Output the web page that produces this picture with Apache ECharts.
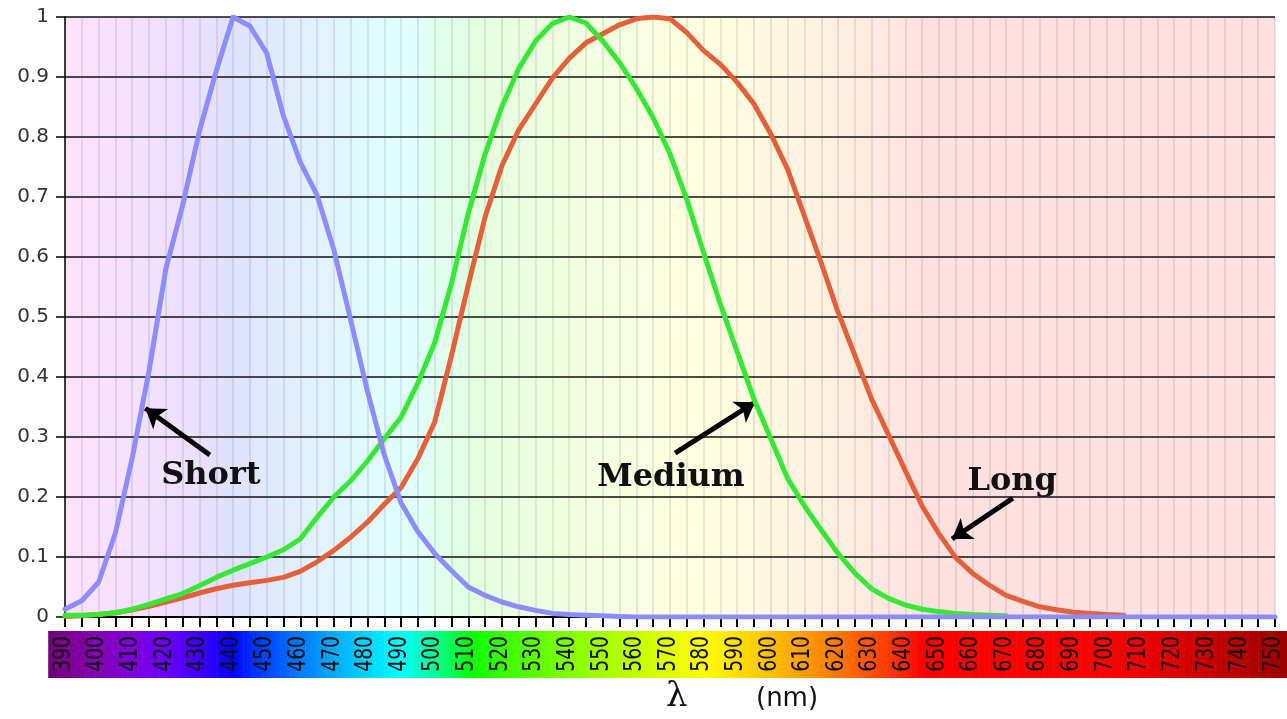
<!DOCTYPE html>
<html>
<head>
<meta charset="utf-8">
<title>Cone sensitivities</title>
<script src="https://cdn.jsdelivr.net/npm/echarts@6/dist/echarts.min.js"></script>
<style>
  html, body { margin: 0; padding: 0; background: #ffffff; }
  #chart { width: 1287px; height: 719px; }
</style>
</head>
<body>
<div id="chart"></div>
<script>
// Wavelength samples (nm) shared by the three cone curves
const WAVELENGTHS = [390,395,400,405,410,415,420,425,430,435,440,445,450,455,460,465,470,475,480,485,
  490,495,500,505,510,515,520,525,530,535,540,545,550,555,560,565,570,575,580,585,
  590,595,600,605,610,615,620,625,630,635,640,645,650,655,660,665,670,675,680,685,
  690,695,700,705,710,715,720,725,730,735,740,745,750];

// Normalised cone responses (null = no sample)
const SHORT = [0.013,0.027,0.058,0.14,0.265,0.41,0.58,0.686,0.81,0.91,1.0,0.985,0.94,0.835,0.758,0.703,0.612,0.495,0.376,0.27,
  0.19,0.142,0.106,0.077,0.05,0.036,0.025,0.017,0.011,0.006,0.004,0.003,0.002,0.001,0,0,0,0,0,0,
  0,0,0,0,0,0,0,0,0,0,0,0,0,0,0,0,0,0,0,0,
  0,0,0,0,0,0,0,0,0,0,0,0,0];

const MEDIUM = [0.003,0.003,0.004,0.007,0.013,0.021,0.03,0.039,0.052,0.066,0.078,0.089,0.1,0.112,0.13,0.166,0.2,0.227,0.26,0.297,
  0.333,0.39,0.457,0.556,0.673,0.772,0.851,0.914,0.96,0.989,1.0,0.99,0.96,0.924,0.881,0.832,0.772,0.696,0.607,0.521,
  0.442,0.363,0.297,0.231,0.185,0.145,0.106,0.073,0.047,0.031,0.02,0.013,0.009,0.006,0.004,0.003,0.002,null,null,null,
  null,null,null,null,null,null,null,null,null,null,null,null,null];

const LONG = [0.001,0.002,0.004,0.007,0.012,0.018,0.025,0.032,0.04,0.047,0.053,0.057,0.061,0.066,0.076,0.092,0.111,0.133,0.158,0.188,
  0.216,0.264,0.325,0.436,0.554,0.667,0.752,0.812,0.855,0.898,0.931,0.957,0.972,0.987,0.997,1.0,0.997,0.974,0.944,0.921,
  0.891,0.855,0.805,0.746,0.668,0.59,0.508,0.436,0.363,0.304,0.244,0.185,0.139,0.099,0.073,0.053,0.036,0.026,0.017,0.012,
  0.008,0.006,0.004,0.003,null,null,null,null,null,null,null,null,null];

// Wavelength tick labels printed inside the spectrum strip
const TICK_LABELS = [390,400,410,420,430,440,450,460,470,480,490,500,510,520,530,540,550,560,570,
  580,590,600,610,620,630,640,650,660,670,680,690,700,710,720,730,740,750];

// Curve names, label anchors and arrow ends (in nm / response units)
const CONE_NAMES = ['Long', 'Medium', 'Short'];
const LABEL_AT = { Short: [433.4, 0.235], Medium: [570.3, 0.233], Long: [671.8, 0.226] };
const ARROWS = {
  Short:  [[433.1, 0.27],  [413.9, 0.348]],
  Medium: [[571.5, 0.273], [595.3, 0.358]],
  Long:   [[672.0, 0.198], [653.9, 0.13]]
};

const X_MIN = 390, X_MAX = 750;

// Approximate visible-spectrum colour for a wavelength
function spectrum(w, fade) {
  let r = 0, g = 0, b = 0;
  if (w < 440) { r = fade ? -(w - 440) / 60 : Math.min(1, -(w - 440) / 50); b = 1; }
  else if (w < 490) { g = (w - 440) / 50; b = 1; }
  else if (w < 510) { g = 1; b = -(w - 510) / 20; }
  else if (w < 580) { r = (w - 510) / 70; g = 1; }
  else if (w < 645) { r = 1; g = -(w - 645) / 65; }
  else { r = 1; }
  let f = 1;
  if (fade) {
    if (w < 420) f = 0.3 + 0.7 * (w - 380) / 40;
    else if (w > 700) f = 0.3 + 0.7 * (780 - w) / 80;
  }
  const c = v => Math.round(255 * Math.pow(Math.max(0, Math.min(1, v * f)), 0.8));
  return [c(r), c(g), c(b)];
}
function toCss(rgb) { return 'rgb(' + rgb.join(',') + ')'; }
function tint(rgb, a) {
  return toCss(rgb.map(v => Math.round(255 * (1 - a) + v * a)));
}

// 1 nm bands for the tinted plot background and the spectrum strip
const bgBands = [];
for (let w = X_MIN; w < X_MAX; w += 1) bgBands.push([w]);
const stripBands = [];
for (let w = 385; w < 754; w += 1) stripBands.push([w]);

const CURVE_COLORS = { Short: '#8c8cff', Medium: '#34e834', Long: '#e4603a' };
const SERIES_VALUES = { Short: SHORT, Medium: MEDIUM, Long: LONG };

function coneSeries(name, z) {
  const vals = SERIES_VALUES[name];
  const a = ARROWS[name];
  return {
    name: name,
    type: 'line',
    z: z,
    data: WAVELENGTHS.map((w, i) => [w, vals[i]]),
    showSymbol: false,
    symbol: 'none',
    connectNulls: false,
    lineStyle: { color: CURVE_COLORS[name], width: 5, join: 'round', cap: 'round' },
    itemStyle: { color: CURVE_COLORS[name] },
    silent: true,
    markLine: {
      silent: true,
      symbol: ['none', 'arrow'],
      symbolSize: 19,
      label: { show: false },
      lineStyle: { color: '#000', width: 5, type: 'solid' },
      emphasis: { disabled: true },
      data: [[{ coord: a[0] }, { coord: a[1] }]]
    },
    markPoint: {
      silent: true,
      symbol: 'rect',
      symbolSize: 1,
      itemStyle: { color: 'rgba(0,0,0,0)' },
      label: {
        show: true,
        position: 'inside',
        formatter: name,
        color: '#111',
        fontFamily: 'DejaVu Serif',
        fontWeight: 'bold',
        fontSize: 32
      },
      data: [{ coord: LABEL_AT[name] }]
    }
  };
}

const chart = echarts.init(document.getElementById('chart'), null, { renderer: 'canvas' });

const option = {
  animation: false,
  backgroundColor: '#ffffff',
  grid: { left: 65, right: 12, top: 17, bottom: 102, containLabel: false },
  xAxis: {
    // axis line, 5 nm ticks and faint vertical grid behind the curves
    type: 'value', min: X_MIN, max: X_MAX, interval: 5, position: 'bottom',
    axisLine: { show: true, onZero: false, lineStyle: { color: '#000', width: 2 } },
    axisTick: { show: true, length: 10, lineStyle: { color: '#000', width: 2 } },
    axisLabel: { show: false },
    splitLine: { show: true, lineStyle: { color: 'rgba(60,60,60,0.15)', width: 1.5 } }
  },
  yAxis: {
    type: 'value', min: 0, max: 1, interval: 0.1,
    axisLine: { show: true, lineStyle: { color: '#000', width: 1.5 } },
    axisTick: { show: true, length: 9, lineStyle: { color: '#000', width: 1.5 } },
    axisLabel: { fontFamily: 'DejaVu Sans', fontSize: 20, color: '#333', margin: 16 },
    splitLine: { show: true, lineStyle: { color: '#111', width: 1.5 } }
  },
  series: [
    {
      // tinted spectrum behind the plot
      type: 'custom', z: -1, silent: true, clip: true,
      data: bgBands,
      renderItem: function (params, api) {
        const w = api.value(0);
        const p0 = api.coord([w, 1]);
        const p1 = api.coord([w + 1, 0]);
        return {
          type: 'rect',
          shape: { x: p0[0], y: p0[1], width: p1[0] - p0[0] + 0.6, height: p1[1] - p0[1] },
          style: { fill: tint(spectrum(w + 0.5, false), 0.12) }
        };
      }
    },
    {
      // full-colour spectrum strip under the axis
      type: 'custom', z: 2, silent: true, clip: false,
      data: stripBands,
      renderItem: function (params, api) {
        const w = api.value(0);
        const p0 = api.coord([w, 0]);
        const p1 = api.coord([w + 1, 0]);
        return {
          type: 'rect',
          shape: { x: p0[0], y: p0[1] + 14, width: p1[0] - p0[0] + 0.6, height: 47 },
          style: { fill: toCss(spectrum(w + 0.5, true)) }
        };
      }
    },
    {
      // rotated, narrowed wavelength labels on the strip
      type: 'custom', z: 3, silent: true, clip: false,
      data: TICK_LABELS.map(v => [v]),
      renderItem: function (params, api) {
        const w = api.value(0);
        const p = api.coord([w, 0]);
        return {
          type: 'text',
          x: p[0] - 1.5,
          y: p[1] + 19,
          rotation: Math.PI / 2,
          scaleX: 0.78,
          scaleY: 1,
          style: {
            text: String(w),
            fontFamily: 'DejaVu Sans',
            fontSize: 24,
            fill: '#111',
            align: 'right',
            verticalAlign: 'middle'
          }
        };
      }
    }
  ].concat(CONE_NAMES.map((n, i) => coneSeries(n, 4 + i))),
  graphic: [
    {
      type: 'text', left: 666, top: 680, silent: true,
      style: { text: 'λ', fontFamily: 'DejaVu Serif', fontSize: 34, fill: '#111' }
    },
    {
      type: 'text', left: 756, top: 686, silent: true,
      style: { text: '(nm)', fontFamily: 'DejaVu Sans', fontSize: 26, fill: '#111' }
    }
  ]
};

chart.setOption(option);
</script>
</body>
</html>
